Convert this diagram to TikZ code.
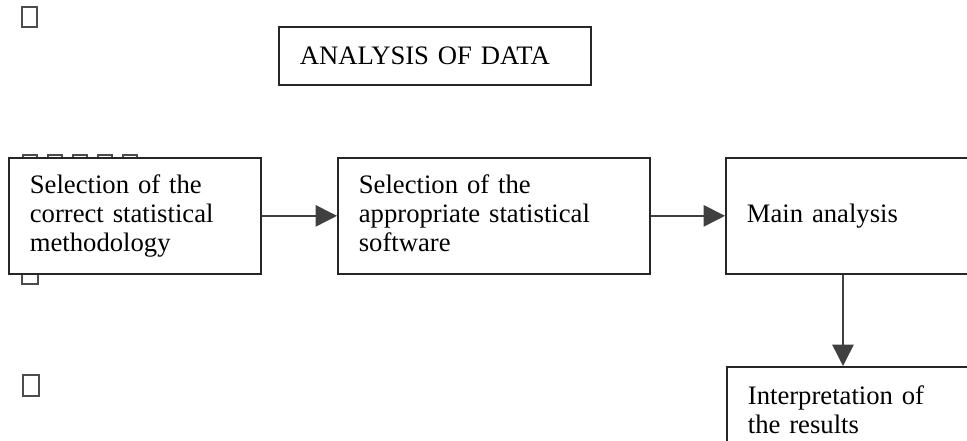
\documentclass[tikz,border=0pt]{standalone}
\usepackage{fontspec}
\setmainfont{Liberation Serif}
\usetikzlibrary{arrows.meta}

\begin{document}
\begin{tikzpicture}[x=0.75pt, y=-0.75pt,
  box/.style={draw=black!85, fill=white, line width=1.3pt, anchor=north west, inner xsep=15.75pt, inner ysep=0pt, align=left, minimum height=87pt},
  bullet/.style={draw=black!70, line width=1.1pt},
  link/.style={draw=black!75, line width=1.1pt, -{Triangle[length=16pt,width=16pt]}}]
\useasboundingbox (0,0) rectangle (967,441);
\clip (0,0) rectangle (967,441);
% bullets (partly hidden by the boxes)
\draw[bullet] (22,7) rectangle (37,27);
\foreach \i in {0,...,4}
  \draw[bullet] (23+25*\i,155) rectangle (37+25*\i,175);
\draw[bullet] (22,264) rectangle (38,284);
\draw[bullet] (23,375) rectangle (39,396);
\begin{scope}[every node/.style={font=\fontsize{20}{21.75}\selectfont}]
\node[box, minimum height=43.5pt, text width=202.5pt] (title) at (278,26) {ANALYSIS OF DATA};%title
\node[box, text width=157.5pt] (b1) at (8,157) {Selection of the\\correct statistical\\methodology};%1
\node[box, text width=202.5pt] (b2) at (337,157) {Selection of the\\appropriate statistical\\software\vphantom{y}};%2
\node[box, text width=182.25pt] (b3) at (725,157) {Main analysis};%3
\node[box, minimum height=65pt, text width=182.25pt] (b4) at (726,366) {Interpretation of\\the results};%4
\end{scope}
\begin{scope}
\coordinate (ax) at (843,0);
\draw[link] (b1) -- (b2);
\draw[link] (b2) -- (b3);
\draw[link] (b3.south -| ax) -- (b4.north -| ax);
\end{scope}
\end{tikzpicture}
\end{document}
